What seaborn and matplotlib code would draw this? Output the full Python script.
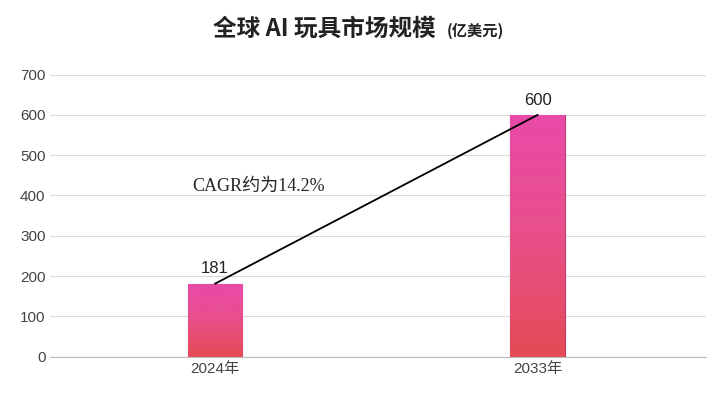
import numpy as np
import pandas as pd
import matplotlib
matplotlib.use("Agg")
import matplotlib.pyplot as plt
import seaborn as sns
from matplotlib.colors import LinearSegmentedColormap

years = ["2024年", "2033年"]
values = [181, 600]
yticks = [0, 100, 200, 300, 400, 500, 600, 700]

sns.set_style("white")
plt.rcParams['font.family'] = ['Liberation Sans', 'Noto Sans CJK SC']

fig = plt.figure(figsize=(7.2, 4.03), dpi=100)
ax = fig.add_axes([0.07, 0.115, 0.91, 0.70])
df = pd.DataFrame({"year": years, "value": values})
sns.barplot(data=df, x="year", y="value", ax=ax, width=0.17, color="#e84a9a")

cmap = LinearSegmentedColormap.from_list("g", ["#e54a55", "#e8508a", "#e84aa8"])
grad = np.linspace(0, 1, 256).reshape(-1, 1)
for p in ax.patches:
    x0, w, h = p.get_x(), p.get_width(), p.get_height()
    p.set_facecolor("none")
    p.set_edgecolor("#c03a70")
    p.set_linewidth(0.8)
    im = ax.imshow(grad, cmap=cmap, aspect="auto", extent=[x0, x0 + w, h, 0], zorder=2)
    im.set_clip_path(p)
    ax.text(x0 + w / 2, h + 18, f"{h:.0f}", ha="center", va="bottom", fontsize=12, color="#222")

ax.plot([0, 1], values, color="black", lw=1.3, zorder=3)
ax.text(-0.07, 422, "CAGR约为14.2%", fontsize=13, family=["Liberation Serif", "Noto Sans CJK SC"], va="center")

ax.set_xlim(-0.51, 1.52)
ax.set_ylim(0, 700)
ax.set_yticks(yticks)
ax.yaxis.grid(True, color="#d9d9d9", lw=0.8)
ax.set_axisbelow(True)
ax.set_xlabel("")
ax.set_ylabel("")
ax.tick_params(axis="both", labelsize=11, colors="#444", length=0)
for s in ["top", "right", "left"]:
    ax.spines[s].set_visible(False)
ax.spines["bottom"].set_color("#bbbbbb")

fig.text(0.605, 0.91, "全球 AI 玩具市场规模", ha="right", fontsize=17, fontweight="bold", color="#222",
         family=["Noto Sans CJK SC"])
fig.text(0.62, 0.91, "(亿美元)", ha="left", fontsize=11, fontweight="bold", color="#222",
         family=["Noto Sans CJK SC"])

fig.savefig("out.png", dpi=100)
